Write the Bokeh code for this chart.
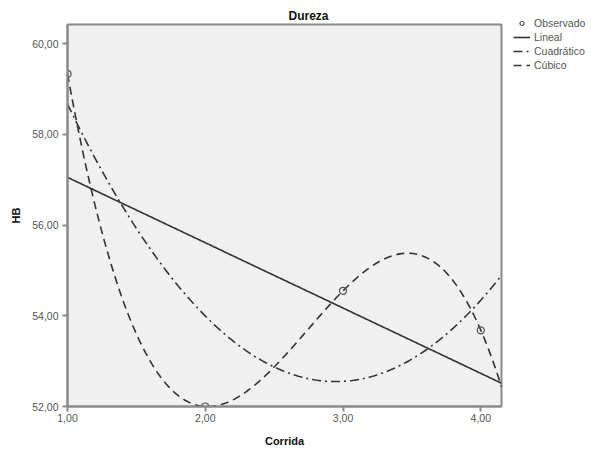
import numpy as np
from bokeh.plotting import figure
from bokeh.models import Legend, LegendItem, FixedTicker, Range1d, Title
from bokeh.embed import file_html
from bokeh.resources import INLINE

# Data
corrida = [1.0, 2.0, 3.0, 4.0]
hb = [59.33, 52.0, 54.55, 53.68]
x_ticks = [1, 2, 3, 4]
x_tick_labels = ["1,00", "2,00", "3,00", "4,00"]
y_ticks = [52, 54, 56, 58, 60]
y_tick_labels = ["52,00", "54,00", "56,00", "58,00", "60,00"]
x_lo, x_hi = 1.0, 4.15
y_lo, y_hi = 52.0, 60.42

FONT = "Liberation Sans"

p = figure(width=591, height=450, output_backend="svg", toolbar_location=None,
           x_range=Range1d(x_lo, x_hi), y_range=Range1d(y_lo, y_hi),
           min_border_left=67, min_border_right=90, min_border_top=24,
           min_border_bottom=44, title=None)
p.frame_width = 434
p.frame_height = 382

p.background_fill_color = "#f0f0f0"
p.border_fill_color = "white"
p.outline_line_color = "#8a8a8a"
p.outline_line_width = 2
p.grid.visible = False

# title
t = Title(text="Dureza", align="left", offset=221, text_font=FONT,
          text_font_size="12px", text_font_style="bold", text_color="#111111",
          standoff=4)
p.add_layout(t, "above")

for ax in (p.xaxis[0], p.yaxis[0]):
    ax.axis_line_color = "#8a8a8a"
    ax.axis_line_width = 2
    ax.major_tick_line_color = "#8a8a8a"
    ax.major_tick_line_width = 2
    ax.major_tick_in = 0
    ax.major_tick_out = 5
    ax.minor_tick_line_color = None
    ax.major_label_text_font = FONT
    ax.major_label_text_font_size = "10.5px"
    ax.major_label_text_color = "#555555"
    ax.axis_label_text_font = FONT
    ax.axis_label_text_font_size = "11px"
    ax.axis_label_text_font_style = "bold"
    ax.axis_label_text_color = "#111111"

p.xaxis.ticker = FixedTicker(ticks=x_ticks)
p.xaxis.major_label_overrides = {k: v for k, v in zip(x_ticks, x_tick_labels)}
p.yaxis.ticker = FixedTicker(ticks=y_ticks)
p.yaxis.major_label_overrides = {k: v for k, v in zip(y_ticks, y_tick_labels)}
p.xaxis.axis_label = "Corrida"
p.yaxis.axis_label = "HB"
p.xaxis.axis_label_standoff = 10
p.yaxis.axis_label_standoff = 7
p.xaxis.major_label_standoff = 2
p.yaxis.major_label_standoff = 4

# fitted curves from the observed data
xs = np.linspace(x_lo, x_hi, 300)
lin = np.polyval(np.polyfit(corrida, hb, 1), xs)
quad = np.polyval(np.polyfit(corrida, hb, 2), xs)
cub = np.polyval(np.polyfit(corrida, hb, 3), xs)

col = "#333333"
r_lin = p.line(xs, lin, line_color=col, line_width=1.6)
r_quad = p.line(xs, quad, line_color=col, line_width=1.6, line_dash="9 4 2 4")
r_cub = p.line(xs, cub, line_color=col, line_width=1.6, line_dash="8 5")
r_obs = p.scatter(corrida, hb, marker="circle", size=7, fill_color=None,
                  line_color="#555555", line_width=1.2)

legend = Legend(items=[
    LegendItem(label="Observado", renderers=[r_obs]),
    LegendItem(label="Lineal", renderers=[r_lin]),
    LegendItem(label="Cuadrático", renderers=[r_quad]),
    LegendItem(label="Cúbico", renderers=[r_cub]),
], location=(12, 335), orientation="vertical")
legend.background_fill_alpha = 0
legend.border_line_color = None
legend.label_text_font = FONT
legend.label_text_font_size = "10.5px"
legend.label_text_color = "#555555"
legend.glyph_width = 17
legend.glyph_height = 10
legend.label_height = 10
legend.spacing = 2
legend.label_standoff = 4
legend.padding = 0
legend.margin = 0
p.add_layout(legend, "right")

open("out.html", "w").write(file_html(p, INLINE))
